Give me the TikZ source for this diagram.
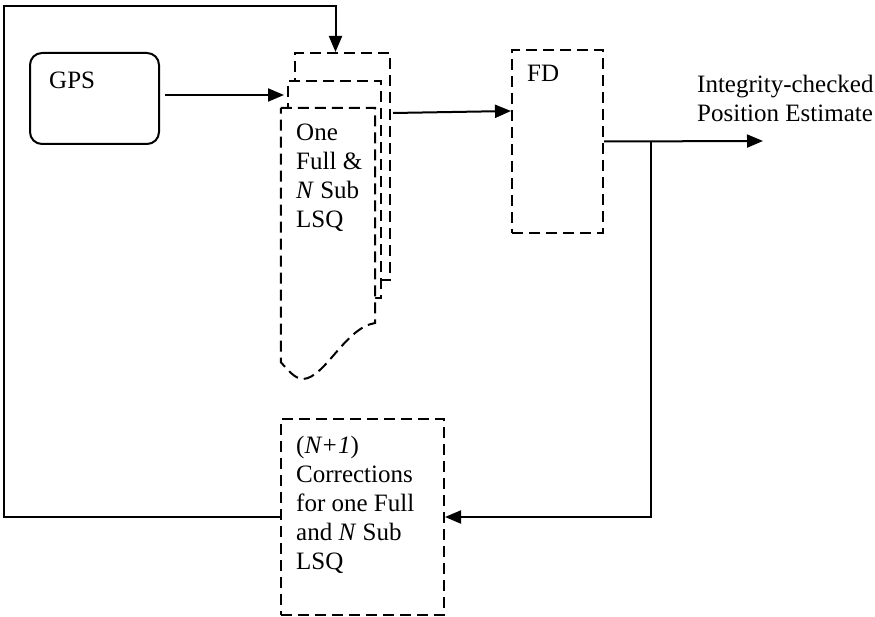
\documentclass[tikz,border=0pt]{standalone}
\usepackage{fontspec}
\setmainfont{Liberation Serif}
\usetikzlibrary{arrows.meta,calc}
\begin{document}
\begin{tikzpicture}[x=1pt,y=-1pt,
  every node/.style={font=\fontsize{25}{29}\selectfont},
  conn/.style={line width=2pt},
  arr/.style={conn,-{Triangle[length=16pt,width=13pt]}},
  dbox/.style={draw,dash pattern=on 11pt off 6pt,line width=2pt,fill=white,inner sep=0pt},
  lbl/.style={anchor=north west,align=left,inner sep=0pt},
  single/.style={anchor=base west,inner sep=0pt}
]
\useasboundingbox (0,0) rectangle (875,617);

% GPS source
\node[draw,conn,rounded corners=12pt,minimum width=129pt,minimum height=91pt,inner sep=0pt] (gps) at (94.5,98.5) {};
\node[single] (gpst) at (49,89) {GPS};

% stacked least-squares solutions: back sheet, middle sheet, front sheet
\node[dbox,minimum width=95pt,minimum height=227pt] (back) at (342.5,166.5) {};
\node[dbox,minimum width=93pt,minimum height=217pt] (middle) at (334.5,189.5) {};
\node[inner sep=0pt,minimum width=94pt,minimum height=254pt] (front) at (328,235) {};
\draw[dbox] (front.north west) -- (front.north east) -- (375,323)
  .. controls (345,328) and (325,378) .. (303,379)
  .. controls (295,379) and (288,370) .. (front.south west) -- cycle;
\node[lbl] (lsq) at (296,123.8) {One\\Full \&\\\textit{N} Sub\\LSQ};

% fault detection
\node[dbox,minimum width=91pt,minimum height=183pt] (fd) at (557.5,141.5) {};
\node[single] (fdt) at (527,82) {FD};

% corrections block
\node[dbox,minimum width=163pt,minimum height=196pt] (corr) at (362.5,517) {};
\node[lbl] (corrt) at (296,435.8) {(\textit{N+1})\\Corrections\\for one Full\\and \textit{N} Sub\\LSQ};

% output
\coordinate (out) at (763,141);
\coordinate (br) at (651,141);
\coordinate (frame) at (4,6);
\node[lbl] (outt) at (697,74.5) {Integrity-checked\\Position Estimate};

% connectors
\coordinate (g1) at ([xshift=5pt,yshift=3.5pt]gps.east);
\draw[arr] (g1) -- ([xshift=-3pt]g1 -| middle.west);
\draw[arr] ([xshift=2pt,yshift=-61pt]back.north east) -- ([yshift=-62pt]fd.north west);
\draw[arr] (fd.east) -- (out);
\draw[arr] (br) |- (corr.east);
\draw[arr] (corr.west) -| (frame) -| ([xshift=-7pt]back.north);
\end{tikzpicture}
\end{document}
